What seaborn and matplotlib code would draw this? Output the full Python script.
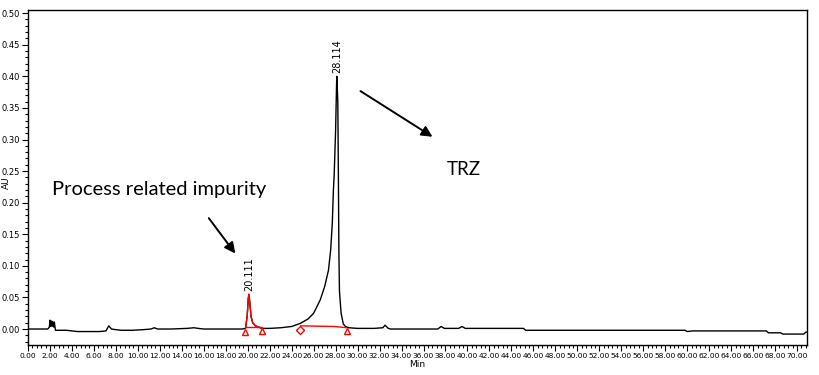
import numpy as np
import pandas as pd
import matplotlib
matplotlib.use("Agg")
import matplotlib.pyplot as plt
from matplotlib.ticker import MultipleLocator, FormatStrFormatter
import seaborn as sns

# chromatogram trace (minutes, AU)
time_min = [0.0, 1.8, 1.95, 2.0, 2.05, 2.1, 2.2, 2.25, 2.35, 2.4, 2.5, 3.0, 3.5, 4.5, 6.5, 7.1,
            7.35, 7.6, 8.0, 8.5, 9.5, 10.5, 11.2, 11.5, 11.8, 13.0, 14.5, 15.1, 15.5, 16.0, 17.5,
            19.5, 19.8, 19.95, 20.05, 20.111, 20.2, 20.3, 20.45, 20.7, 21.0, 21.3, 22.0, 23.0,
            24.0, 24.8, 25.5, 26.0, 26.6, 27.0, 27.35, 27.55, 27.7, 27.8, 27.87, 28.0, 28.09,
            28.114, 28.2, 28.25, 28.3, 28.35, 28.5, 28.7, 28.9, 29.2, 30.0, 31.5, 32.3, 32.5,
            32.8, 33.0, 37.3, 37.6, 37.9, 39.2, 39.5, 39.8, 45.1, 45.3, 59.8, 60.0, 60.5, 61.5,
            67.2, 67.4, 68.5, 68.7, 70.6, 70.8, 70.9]
absorbance = [0.000, 0.000, 0.003, 0.014, 0.004, 0.013, 0.004, 0.012, 0.003, 0.011, -0.002,
              -0.002, -0.002, -0.004, -0.004, -0.003, 0.005, 0.000, -0.001, -0.002, -0.002,
              -0.001, 0.000, 0.002, 0.000, 0.000, 0.001, 0.002, 0.001, 0.000, 0.000, 0.000,
              0.001, 0.020, 0.048, 0.055, 0.040, 0.020, 0.010, 0.005, 0.003, 0.001, 0.001,
              0.002, 0.004, 0.009, 0.016, 0.025, 0.046, 0.067, 0.093, 0.125, 0.168, 0.220,
              0.244, 0.315, 0.389, 0.400, 0.360, 0.250, 0.120, 0.060, 0.025, 0.008, 0.004,
              0.002, 0.001, 0.001, 0.002, 0.006, 0.001, 0.000, 0.000, 0.004, 0.001, 0.001,
              0.004, 0.001, 0.001, -0.002, -0.002, -0.004, -0.003, -0.003, -0.003, -0.006,
              -0.006, -0.008, -0.008, -0.005, -0.005]

# integration baselines and start/end markers
imp_base_t = [19.75, 21.26]
imp_base_y = [0.003, 0.003]
main_base_t = [24.8, 27.9, 29.0]
main_base_y = [0.005, 0.004, 0.002]
peak_times = [20.111, 28.114]
peak_heights = [0.055, 0.400]
peak_labels = ["20.111", "28.114"]

df = pd.DataFrame({"Min": time_min, "AU": absorbance})

sns.set_style("ticks")
plt.rcParams["font.family"] = ["Liberation Sans Narrow", "DejaVu Sans"]
plt.rcParams["text.color"] = "black"
plt.rcParams["axes.labelcolor"] = "black"
plt.rcParams["xtick.color"] = "black"
plt.rcParams["ytick.color"] = "black"

fig = plt.figure(figsize=(8.2, 3.75), dpi=100)
ax = fig.add_axes([0.0341, 0.08, 0.9500, 0.8933])

sns.lineplot(data=df, x="Min", y="AU", color="black", lw=1.0, estimator=None, sort=False, ax=ax)

# impurity peak drawn red inside its integration window
imp = df[(df["Min"] >= 19.75) & (df["Min"] <= 21.3)]
sns.lineplot(data=imp, x="Min", y="AU", color="red", lw=1.0, estimator=None, sort=False, ax=ax)

ax.plot(imp_base_t, imp_base_y, color="red", lw=1.0)
ax.plot(main_base_t, main_base_y, color="red", lw=1.0)
ax.plot([19.75, 21.26, 29.0], [-0.004, -0.003, -0.003], ls="none", marker="^", ms=5,
        mfc="white", mec="red", mew=1.0)
ax.plot([24.8], [-0.001], ls="none", marker="D", ms=4, mfc="white", mec="red", mew=1.0)

for t, h, lab in zip(peak_times, peak_heights, peak_labels):
    ax.text(t, h + 0.005, lab, rotation=90, ha="center", va="bottom", fontsize=7)

ax.text(2.2, 0.2215, "Process related impurity", family=["Lato", "DejaVu Sans"],
        fontsize=14.5, va="center", ha="left")
ax.text(38.1, 0.252, "TRZ", family=["Lato", "DejaVu Sans"], fontsize=13.5, va="center", ha="left")

arrow = dict(arrowstyle="-|>", color="black", lw=1.4, mutation_scale=16)
ax.annotate("", xy=(19.02, 0.116), xytext=(16.31, 0.179), arrowprops=arrow)
ax.annotate("", xy=(37.03, 0.302), xytext=(30.05, 0.379), arrowprops=arrow)

ax.set_xlim(0, 70.9)
ax.set_ylim(-0.0253, 0.505)
ax.xaxis.set_major_locator(MultipleLocator(2))
ax.xaxis.set_minor_locator(MultipleLocator(0.4))
ax.yaxis.set_major_locator(MultipleLocator(0.05))
ax.yaxis.set_minor_locator(MultipleLocator(0.01))
ax.xaxis.set_major_formatter(FormatStrFormatter("%.2f"))
ax.yaxis.set_major_formatter(FormatStrFormatter("%.2f"))
ax.tick_params(which="major", direction="out", length=4, width=0.8, pad=1.5)
ax.tick_params(axis="y", labelsize=6)
ax.tick_params(axis="x", labelsize=5.4)
ax.tick_params(which="minor", direction="out", length=2, width=0.8)
ax.set_xlabel("Min", fontsize=6.5, labelpad=1)
ax.set_ylabel("AU", fontsize=6.5)
ax.yaxis.set_label_coords(-0.022, 0.485)
for s in ax.spines.values():
    s.set_visible(True)
    s.set_linewidth(1.0)
    s.set_color("black")

fig.savefig("out.png", dpi=100)
